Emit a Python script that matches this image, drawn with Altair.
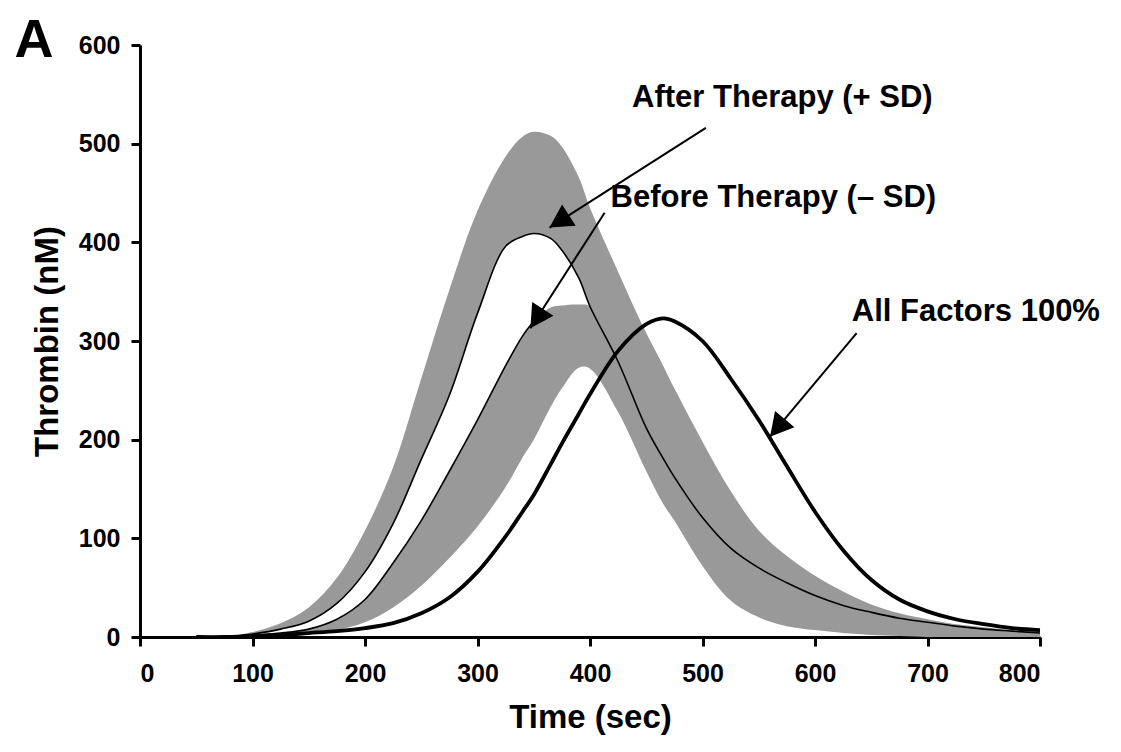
import math
import altair as alt
import pandas as pd

# ---- data ----
time_s = [50, 75, 100, 125, 150, 175, 200, 225, 250, 275, 300, 325, 340, 350, 365, 375, 390, 400,
          425, 450, 465, 475, 500, 525, 550, 575, 600, 625, 650, 675, 700, 725, 750, 775, 800]
after_plus_sd = [0, 0, 5, 14, 30, 60, 108, 172, 262, 352, 432, 487, 507, 512, 508, 497, 466, 435,
                 370, 308, 275, 252, 198, 148, 108, 82, 62, 46, 33, 24, 18, 13, 10, 7, 5]
after_mean = [0, 0, 3, 8, 16, 34, 66, 115, 180, 245, 328, 396, 406, 409, 404, 392, 364, 335,
              279, 212, 181, 162, 121, 90, 70, 55, 42, 32, 25, 19, 15, 11, 8, 6, 4]
before_mean = [0, 0, 2, 4, 8, 18, 38, 75, 118, 168, 220, 275, 305, 320, 334, 336, 337, 335,
               279, 212, 181, 162, 121, 90, 70, 55, 42, 32, 25, 19, 15, 11, 8, 6, 4]
before_minus_sd = [0, 0, 0, 1, 3, 7, 15, 30, 52, 80, 112, 152, 182, 200, 233, 252, 273, 272,
                   228, 168, 135, 118, 72, 37, 20, 11, 7, 4, 2, 1, 0, 0, 0, 0, 0]
all_factors = [0, 0, 1, 2, 4, 6, 9, 14, 24, 40, 66, 102, 127, 144, 175, 196, 226, 246,
               290, 317, 323, 320, 300, 262, 220, 173, 127, 88, 58, 38, 26, 18, 13, 9, 7]

# annotations (data units)
label_text = ["After Therapy (+ SD)", "Before Therapy (\u2013 SD)", "All Factors 100%"]
label_t = [571, 563, 743]
label_v = [537, 436, 320]
arrow_t0 = [503, 413, 637]
arrow_v0 = [516, 430, 308]
arrow_t1 = [364, 347, 560]
arrow_v1 = [415, 313, 203]

W, H = 900, 592
XMAX, YMAX = 800, 600
FONT = "Liberation Sans"
GRAY = "#999999"
CURVE = "catmull-rom"

df = pd.DataFrame({
    "t": time_s,
    "a_up": after_plus_sd,
    "a_mean": after_mean,
    "b_mean": before_mean,
    "b_low": before_minus_sd,
    "c": all_factors,
})

xs = alt.Scale(domain=[0, XMAX], nice=False, zero=False)
ys = alt.Scale(domain=[0, YMAX], nice=False)

x_axis = alt.Axis(values=list(range(0, 801, 100)), title="Time (sec)", grid=False,
                  domainColor="black", domainWidth=3, tickColor="black", tickWidth=3,
                  tickSize=9, labelFont=FONT, labelFontSize=25, labelFontWeight="bold",
                  labelColor="black", labelPadding=15, titleFont=FONT, titleFontSize=33,
                  titleFontWeight="bold", titleColor="black", titlePadding=15)
y_axis = alt.Axis(values=list(range(0, 601, 100)), title="Thrombin (nM)", grid=False,
                  domainColor="black", domainWidth=3, tickColor="black", tickWidth=3,
                  tickSize=9, labelFont=FONT, labelFontSize=25, labelFontWeight="bold",
                  labelColor="black", labelPadding=11, titleFont=FONT, titleFontSize=33,
                  titleFontWeight="bold", titleColor="black", titlePadding=14)


def X(field):
    return alt.X(field, type="quantitative", scale=xs, axis=x_axis)


def Y(field):
    return alt.Y(field, type="quantitative", scale=ys, axis=y_axis)


base = alt.Chart(df)

band_a = base.mark_area(color=GRAY, interpolate=CURVE, opacity=1).encode(
    x=X("t"), y=Y("a_mean"), y2="a_up:Q")
band_b = base.mark_area(color=GRAY, interpolate=CURVE, opacity=1).encode(
    x=X("t"), y=Y("b_low"), y2="b_mean:Q")
line_a = base.mark_line(color="black", strokeWidth=1.6, interpolate=CURVE).encode(
    x=X("t"), y=Y("a_mean"))
line_b = base.transform_filter(alt.datum.t <= 350).mark_line(
    color="black", strokeWidth=1.6, interpolate=CURVE).encode(
    x=X("t"), y=Y("b_mean"))
line_c = base.mark_line(color="black", strokeWidth=3.8, interpolate=CURVE).encode(
    x=X("t"), y=Y("c"))

# arrows
angles = []
for a0, v0, a1, v1 in zip(arrow_t0, arrow_v0, arrow_t1, arrow_v1):
    dx = (a1 - a0) * W / XMAX
    dy = -(v1 - v0) * H / YMAX
    angles.append(math.degrees(math.atan2(dx, -dy)) % 360)

arr = pd.DataFrame({"t0": arrow_t0, "v0": arrow_v0, "t1": arrow_t1, "v1": arrow_v1,
                    "ang": angles})
shafts = alt.Chart(arr).mark_rule(color="black", strokeWidth=2).encode(
    x=X("t0"), y=Y("v0"), x2="t1:Q", y2="v1:Q")
heads = alt.Chart(arr).mark_point(
    shape="M0,0L-0.55,1L0.55,1Z", filled=True, color="black", opacity=1, size=2116,
    strokeWidth=0).encode(
    x=X("t1"), y=Y("v1"), angle=alt.Angle("ang:Q", scale=None))

lab = pd.DataFrame({"txt": label_text, "t": label_t, "v": label_v})
labels = alt.Chart(lab).mark_text(font=FONT, fontSize=31, fontWeight="bold",
                                  color="black", align="center", baseline="alphabetic").encode(
    x=X("t"), y=Y("v"), text="txt:N")

panel = alt.Chart(pd.DataFrame({"txt": ["A"]})).mark_text(
    font=FONT, fontSize=54, fontWeight="bold", color="black", align="center",
    baseline="alphabetic").encode(
    x=alt.value(-106), y=alt.value(12), text="txt:N")

chart = alt.layer(band_a, band_b, line_a, line_b, line_c, shafts, heads, labels, panel).properties(
    width=W, height=H,
    autosize=alt.AutoSizeParams(type="none"),
    padding={"left": 132, "top": 37, "right": 64, "bottom": 100},
).configure_view(stroke=None)

chart.save("out.html", embed_options={"renderer": "svg", "actions": False})
